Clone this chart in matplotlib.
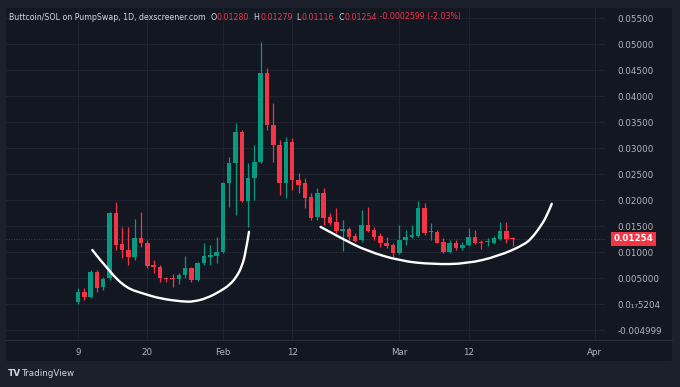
import matplotlib
matplotlib.use("Agg")
import matplotlib.pyplot as plt
import matplotlib.dates as mdates
from matplotlib.patches import Rectangle, FancyBboxPatch, PathPatch
from matplotlib.path import Path
import pandas as pd
import numpy as np

# ---------------- data ----------------
start_date = "2025-01-09"
opens = [0.0003, 0.00226, 0.00141, 0.00610, 0.00322, 0.00495, 0.01746, 0.01150, 0.01040, 0.00899,
         0.01265, 0.01169, 0.00745, 0.00707, 0.00507, 0.00507, 0.00476, 0.00559, 0.00688, 0.00462,
         0.00784, 0.00911, 0.00924, 0.01007, 0.02324, 0.02709, 0.03317, 0.01989, 0.02420, 0.02740,
         0.04441, 0.03447, 0.03061, 0.02324, 0.03125, 0.02387, 0.02324, 0.02054, 0.01669, 0.02131,
         0.01681, 0.01585, 0.01412, 0.01444, 0.01310, 0.01232, 0.01521, 0.01425, 0.01310, 0.01169,
         0.01130, 0.00976, 0.01232, 0.01296, 0.01310, 0.01843, 0.01386, 0.01392, 0.01200, 0.01007,
         0.01180, 0.01072, 0.01136, 0.01284, 0.01200, 0.01187, 0.01180, 0.01245, 0.01399, 0.01280]
highs = [0.00309, 0.00303, 0.00655, 0.00660, 0.00526, 0.01777, 0.01970, 0.01489, 0.01489, 0.01631,
         0.01777, 0.01232, 0.00847, 0.00750, 0.00526, 0.00570, 0.00590, 0.00924, 0.00720, 0.00815,
         0.01169, 0.01136, 0.01296, 0.02355, 0.02836, 0.03478, 0.03350, 0.02709, 0.03061, 0.05050,
         0.04537, 0.03864, 0.03157, 0.03220, 0.03190, 0.02516, 0.02420, 0.02131, 0.02228, 0.02228,
         0.01746, 0.01843, 0.01617, 0.01489, 0.01361, 0.01810, 0.01873, 0.01489, 0.01361, 0.01296,
         0.01169, 0.01521, 0.01425, 0.01521, 0.01989, 0.01940, 0.01554, 0.01425, 0.01265, 0.01232,
         0.01232, 0.01200, 0.01457, 0.01425, 0.01232, 0.01265, 0.01310, 0.01585, 0.01585, 0.01295]
lows = [0.0001, 0.00077, 0.00110, 0.00237, 0.00270, 0.00462, 0.01040, 0.00886, 0.00751, 0.00847,
        0.01103, 0.00688, 0.00591, 0.00430, 0.00430, 0.00320, 0.00390, 0.00495, 0.00430, 0.00450,
        0.00751, 0.00750, 0.00784, 0.00976, 0.01873, 0.01714, 0.01970, 0.01489, 0.02002, 0.02709,
        0.03350, 0.02740, 0.02099, 0.02035, 0.02195, 0.02130, 0.01843, 0.01617, 0.01620, 0.01521,
        0.01521, 0.01361, 0.01026, 0.01232, 0.01200, 0.01200, 0.01393, 0.01232, 0.01103, 0.01072,
        0.00911, 0.00963, 0.01136, 0.01265, 0.01284, 0.01329, 0.01232, 0.01169, 0.00976, 0.00976,
        0.01040, 0.01040, 0.01117, 0.01149, 0.01053, 0.01117, 0.01149, 0.01232, 0.01169, 0.01116]
closes = [0.00237, 0.00141, 0.00611, 0.00314, 0.00476, 0.01746, 0.01136, 0.01040, 0.00899, 0.01265,
          0.01169, 0.00738, 0.00707, 0.00495, 0.00482, 0.00482, 0.00559, 0.00688, 0.00462, 0.00784,
          0.00924, 0.00937, 0.01007, 0.02324, 0.02709, 0.03317, 0.01989, 0.02420, 0.02740, 0.04441,
          0.03447, 0.03061, 0.02324, 0.03125, 0.02387, 0.02291, 0.02035, 0.01650, 0.02131, 0.01650,
          0.01565, 0.01412, 0.01444, 0.01296, 0.01219, 0.01521, 0.01412, 0.01296, 0.01169, 0.01117,
          0.00976, 0.01232, 0.01296, 0.01329, 0.01843, 0.01361, 0.01405, 0.01180, 0.01007, 0.01180,
          0.01072, 0.01136, 0.01284, 0.01180, 0.01180, 0.01213, 0.01265, 0.01399, 0.01245, 0.01254]

# hand-drawn "cup" annotations: (day offset from start, price) guide points
left_curve_days = [2.27, 5.0, 7.7, 10.4, 13.0, 16.7, 18.3, 20.4, 22.5, 24.1, 25.2, 26.0, 26.6, 27.14]
left_curve_prices = [0.01040, 0.00620, 0.00305, 0.00200, 0.00105, 0.00045, 0.00045, 0.00110,
                     0.00240, 0.00370, 0.00530, 0.00720, 0.00980, 0.01390]
right_curve_days = [38.5, 42.1, 45.8, 51.1, 56.3, 61.7, 66.7, 71.0, 72.3, 73.3, 74.4, 75.2]
right_curve_prices = [0.01485, 0.01245, 0.01025, 0.00830, 0.00765, 0.00775, 0.00920, 0.01150,
                      0.01310, 0.01475, 0.01685, 0.01930]

ytick_values = [0.055, 0.05, 0.045, 0.04, 0.035, 0.03, 0.025, 0.02, 0.015, 0.01, 0.005, 0.0, -0.005]
ytick_labels = ["0.05500", "0.05000", "0.04500", "0.04000", "0.03500", "0.03000", "0.02500",
                "0.02000", "0.01500", "0.01000", "0.005000", "0.0\u2081\u20875204", "-0.004999"]
xtick_dates = ["2025-01-09", "2025-01-20", "2025-02-01", "2025-02-12", "2025-03-01",
               "2025-03-12", "2025-04-01"]
xtick_labels = ["9", "20", "Feb", "12", "Mar", "12", "Apr"]

last_price = 0.01254
header_main = "Buttcoin/SOL on PumpSwap, 1D, dexscreener.com"
header_parts = [("  O", "0.01280"), ("  H", "0.01279"), ("  L", "0.01116"), ("  C", "0.01254")]
header_change = " -0.0002599 (-2.03%)"

# ---------------- style ----------------
W, H = 680, 387
FIG_BG = "#1c202b"
PANEL_BG = "#131722"
GRID = "#1f2330"
TXT = "#b2b5be"
UP = "#089981"
DOWN = "#f23645"

plt.rcParams["font.family"] = ["DejaVu Sans"]

fig = plt.figure(figsize=(W / 100, H / 100), dpi=100, facecolor=FIG_BG)

# chart panel
panel = FancyBboxPatch((6 / W, 1 - 361 / H), 666 / W, 353 / H,
                       boxstyle="round,pad=0,rounding_size=0.004",
                       transform=fig.transFigure, facecolor=PANEL_BG, edgecolor="none", zorder=-10)
fig.patches.append(panel)

ax = fig.add_axes([6 / W, 1 - 340 / H, 599 / W, 332 / H])
ax.set_zorder(1)
ax.set_facecolor(PANEL_BG)

dates = pd.date_range(start_date, periods=len(opens), freq="D")
xd = mdates.date2num(dates)
x0 = mdates.date2num(pd.Timestamp(start_date))

# grid
for tv in ytick_values:
    ax.axhline(tv, color=GRID, lw=0.8, zorder=1)
for td in xtick_dates:
    ax.axvline(mdates.date2num(pd.Timestamp(td)), color=GRID, lw=0.8, zorder=1)

# candles
bw = 0.72
for xi, o, h, l, c in zip(xd, opens, highs, lows, closes):
    col = UP if c >= o else DOWN
    ax.vlines(xi, l, h, color=col, lw=0.9, zorder=3)
    bot = min(o, c)
    hgt = max(abs(c - o), 0.00012)
    ax.add_patch(Rectangle((xi - bw / 2, bot), bw, hgt, facecolor=col, edgecolor="none", zorder=4))

# price line
ax.axhline(last_price, color=DOWN, lw=0.6, ls=(0, (1, 2)), alpha=0.6, zorder=2)


def smooth_stroke(days, prices):
    """Quadratic-bezier stroke through the midpoints of the guide points."""
    pts = list(zip(x0 + np.array(days), prices))
    verts = [pts[0]]
    codes = [Path.MOVETO]
    n = len(pts)
    for i in range(1, n - 2):
        mid = ((pts[i][0] + pts[i + 1][0]) / 2, (pts[i][1] + pts[i + 1][1]) / 2)
        verts += [pts[i], mid]
        codes += [Path.CURVE3, Path.CURVE3]
    verts += [pts[n - 2], pts[n - 1]]
    codes += [Path.CURVE3, Path.CURVE3]
    return PathPatch(Path(verts, codes), facecolor="none", edgecolor="white", lw=1.7,
                     capstyle="round", joinstyle="round", zorder=5)


ax.add_patch(smooth_stroke(left_curve_days, left_curve_prices))
ax.add_patch(smooth_stroke(right_curve_days, right_curve_prices))

# limits (pixel-matched)
px_per_day = 6.3
ax.set_xlim(x0 - 72 / px_per_day, x0 + 527 / px_per_day)
ppu = 5195.0
ax.set_ylim(0.055 - 321.7 / ppu, 0.055 + 10.3 / ppu)

# axes styling
for s in ["top", "left", "right"]:
    ax.spines[s].set_visible(False)
ax.spines["bottom"].set_color("#2a2e39")
ax.spines["bottom"].set_linewidth(0.8)

ax.yaxis.tick_right()
ax.set_yticks(ytick_values)
ax.set_yticklabels(ytick_labels)
ax.tick_params(axis="y", length=0, pad=9, labelsize=6.3, colors=TXT)
for lab in ax.get_yticklabels():
    lab.set_horizontalalignment("left")

ax.set_xticks([mdates.date2num(pd.Timestamp(d)) for d in xtick_dates])
ax.set_xticklabels(xtick_labels)
ax.tick_params(axis="x", length=0, pad=6, labelsize=6.3, colors=TXT)

# extend bottom separator across price scale
fig.add_artist(plt.Line2D([605 / W, 672 / W], [1 - 340 / H, 1 - 340 / H],
                          transform=fig.transFigure, color="#2a2e39", lw=0.8))

# last price tag
ax.annotate("0.01254", xy=(1.0, last_price), xycoords=("axes fraction", "data"),
            xytext=(6, 0), textcoords="offset points", ha="left", va="center",
            fontsize=6.3, color="white", fontweight="bold",
            bbox=dict(boxstyle="square,pad=0.3", facecolor=DOWN, edgecolor="none"), zorder=10,
            annotation_clip=False)

# header
fig.canvas.draw()
renderer = fig.canvas.get_renderer()
hx = 9 / W
hy = 1 - 17 / H
hfs = 5.7
t = fig.text(hx, hy, header_main, fontsize=hfs, color="#d1d4dc", va="center", ha="left")
bb = t.get_window_extent(renderer)
cur = bb.x1 / W
for lab, val in header_parts:
    t1 = fig.text(cur, hy, lab, fontsize=hfs, color="#d1d4dc", va="center", ha="left")
    cur = t1.get_window_extent(renderer).x1 / W
    t2 = fig.text(cur, hy, val, fontsize=hfs, color=DOWN, va="center", ha="left")
    cur = t2.get_window_extent(renderer).x1 / W
fig.text(cur, hy, header_change, fontsize=hfs, color=DOWN, va="center", ha="left")

# TradingView branding
fig.text(8 / W, 1 - 374 / H, "TV", fontsize=6.5, color="#d1d4dc", fontweight="bold",
         va="center", ha="left")
fig.text(21 / W, 1 - 374 / H, "TradingView", fontsize=6.3, color="#d1d4dc", va="center", ha="left")

fig.savefig("out.png", dpi=100, facecolor=FIG_BG)
